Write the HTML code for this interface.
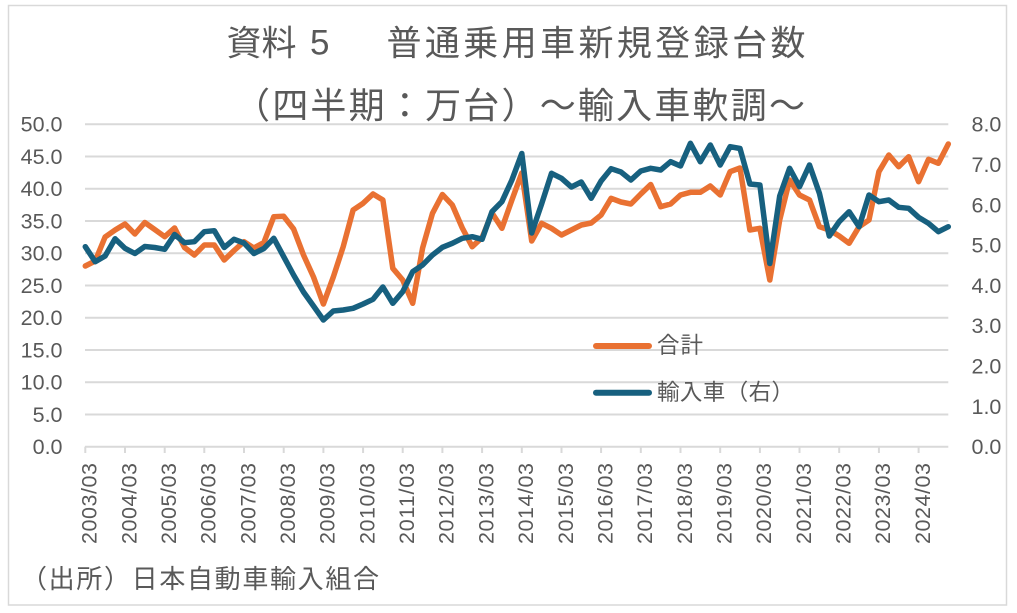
<!DOCTYPE html>
<html>
<head>
<meta charset="utf-8">
<style>
html,body{margin:0;padding:0;background:#fff;}
svg{display:block;}
text{fill:#595959;}
.num{font-family:"Liberation Sans",Arial,sans-serif;font-size:21.5px;}
.jp{font-family:"Liberation Sans","Noto Sans CJK JP",sans-serif;}
</style>
</head>
<body>
<svg width="1017" height="613" viewBox="0 0 1017 613" xmlns="http://www.w3.org/2000/svg">
<rect x="0" y="0" width="1017" height="613" fill="#fff"/>
<rect x="8.5" y="5.5" width="998" height="599.5" fill="none" stroke="#d9d9d9" stroke-width="1.5"/>

<!-- Title -->
<text class="jp" x="226.5" y="55.5" font-size="35" textLength="70" lengthAdjust="spacing">資料</text>
<text x="310" y="54.5" font-family="Liberation Sans, sans-serif" font-size="35">5</text>
<text class="jp" x="386.5" y="55.5" font-size="35" textLength="419" lengthAdjust="spacing">普通乗用車新規登録台数</text>
<text class="jp" x="234" y="118" font-size="36" textLength="571" lengthAdjust="spacing">（四半期：万台）～輸入車軟調～</text>

<!-- Gridlines -->
<g stroke="#d9d9d9" stroke-width="2">
<line x1="85" y1="124.3" x2="948.3" y2="124.3"/>
<line x1="85" y1="156.5" x2="948.3" y2="156.5"/>
<line x1="85" y1="188.8" x2="948.3" y2="188.8"/>
<line x1="85" y1="221" x2="948.3" y2="221"/>
<line x1="85" y1="253.3" x2="948.3" y2="253.3"/>
<line x1="85" y1="285.5" x2="948.3" y2="285.5"/>
<line x1="85" y1="317.7" x2="948.3" y2="317.7"/>
<line x1="85" y1="350" x2="948.3" y2="350"/>
<line x1="85" y1="382.3" x2="948.3" y2="382.3"/>
<line x1="85" y1="414.5" x2="948.3" y2="414.5"/>
<line x1="85" y1="446.7" x2="948.3" y2="446.7"/>
</g>
<!-- Ticks -->
<g stroke="#d9d9d9" stroke-width="2">
<line x1="85.3" y1="446.7" x2="85.3" y2="453"/>
<line x1="125.0" y1="446.7" x2="125.0" y2="453"/>
<line x1="164.7" y1="446.7" x2="164.7" y2="453"/>
<line x1="204.3" y1="446.7" x2="204.3" y2="453"/>
<line x1="244.0" y1="446.7" x2="244.0" y2="453"/>
<line x1="283.7" y1="446.7" x2="283.7" y2="453"/>
<line x1="323.4" y1="446.7" x2="323.4" y2="453"/>
<line x1="363.1" y1="446.7" x2="363.1" y2="453"/>
<line x1="402.7" y1="446.7" x2="402.7" y2="453"/>
<line x1="442.4" y1="446.7" x2="442.4" y2="453"/>
<line x1="482.1" y1="446.7" x2="482.1" y2="453"/>
<line x1="521.8" y1="446.7" x2="521.8" y2="453"/>
<line x1="561.5" y1="446.7" x2="561.5" y2="453"/>
<line x1="601.1" y1="446.7" x2="601.1" y2="453"/>
<line x1="640.8" y1="446.7" x2="640.8" y2="453"/>
<line x1="680.5" y1="446.7" x2="680.5" y2="453"/>
<line x1="720.2" y1="446.7" x2="720.2" y2="453"/>
<line x1="759.9" y1="446.7" x2="759.9" y2="453"/>
<line x1="799.5" y1="446.7" x2="799.5" y2="453"/>
<line x1="839.2" y1="446.7" x2="839.2" y2="453"/>
<line x1="878.9" y1="446.7" x2="878.9" y2="453"/>
<line x1="918.6" y1="446.7" x2="918.6" y2="453"/>
</g>

<!-- Left axis labels -->
<g class="num" text-anchor="end">
<text x="62.5" y="131.7">50.0</text>
<text x="62.5" y="163.9">45.0</text>
<text x="62.5" y="196.2">40.0</text>
<text x="62.5" y="228.4">35.0</text>
<text x="62.5" y="260.7">30.0</text>
<text x="62.5" y="292.9">25.0</text>
<text x="62.5" y="325.1">20.0</text>
<text x="62.5" y="357.4">15.0</text>
<text x="62.5" y="389.7">10.0</text>
<text x="62.5" y="421.9">5.0</text>
<text x="62.5" y="454.1">0.0</text>
</g>
<!-- Right axis labels -->
<g class="num" text-anchor="start">
<text x="971.5" y="131.7">8.0</text>
<text x="971.5" y="172.0">7.0</text>
<text x="971.5" y="212.3">6.0</text>
<text x="971.5" y="252.6">5.0</text>
<text x="971.5" y="292.9">4.0</text>
<text x="971.5" y="333.2">3.0</text>
<text x="971.5" y="373.5">2.0</text>
<text x="971.5" y="413.8">1.0</text>
<text x="971.5" y="454.1">0.0</text>
</g>

<!-- X axis labels -->
<g class="num" text-anchor="end">
<text transform="translate(96.6,463) rotate(-90)" textLength="81" lengthAdjust="spacing">2003/03</text>
<text transform="translate(136.3,463) rotate(-90)" textLength="81" lengthAdjust="spacing">2004/03</text>
<text transform="translate(176.0,463) rotate(-90)" textLength="81" lengthAdjust="spacing">2005/03</text>
<text transform="translate(215.6,463) rotate(-90)" textLength="81" lengthAdjust="spacing">2006/03</text>
<text transform="translate(255.3,463) rotate(-90)" textLength="81" lengthAdjust="spacing">2007/03</text>
<text transform="translate(295.0,463) rotate(-90)" textLength="81" lengthAdjust="spacing">2008/03</text>
<text transform="translate(334.7,463) rotate(-90)" textLength="81" lengthAdjust="spacing">2009/03</text>
<text transform="translate(374.4,463) rotate(-90)" textLength="81" lengthAdjust="spacing">2010/03</text>
<text transform="translate(414.0,463) rotate(-90)" textLength="81" lengthAdjust="spacing">2011/03</text>
<text transform="translate(453.7,463) rotate(-90)" textLength="81" lengthAdjust="spacing">2012/03</text>
<text transform="translate(493.4,463) rotate(-90)" textLength="81" lengthAdjust="spacing">2013/03</text>
<text transform="translate(533.1,463) rotate(-90)" textLength="81" lengthAdjust="spacing">2014/03</text>
<text transform="translate(572.8,463) rotate(-90)" textLength="81" lengthAdjust="spacing">2015/03</text>
<text transform="translate(612.4,463) rotate(-90)" textLength="81" lengthAdjust="spacing">2016/03</text>
<text transform="translate(652.1,463) rotate(-90)" textLength="81" lengthAdjust="spacing">2017/03</text>
<text transform="translate(691.8,463) rotate(-90)" textLength="81" lengthAdjust="spacing">2018/03</text>
<text transform="translate(731.5,463) rotate(-90)" textLength="81" lengthAdjust="spacing">2019/03</text>
<text transform="translate(771.2,463) rotate(-90)" textLength="81" lengthAdjust="spacing">2020/03</text>
<text transform="translate(810.8,463) rotate(-90)" textLength="81" lengthAdjust="spacing">2021/03</text>
<text transform="translate(850.5,463) rotate(-90)" textLength="81" lengthAdjust="spacing">2022/03</text>
<text transform="translate(890.2,463) rotate(-90)" textLength="81" lengthAdjust="spacing">2023/03</text>
<text transform="translate(929.9,463) rotate(-90)" textLength="81" lengthAdjust="spacing">2024/03</text>
</g>

<!-- Series: 合計 (orange) -->
<polyline fill="none" stroke="#E97132" stroke-width="5.5" stroke-linejoin="round" stroke-linecap="round"
points="85.3,266 95.2,261 105.1,237 115.1,230 125.0,224 134.9,234 144.8,222.5 154.7,229.5 164.7,236.7 174.6,228 184.5,247.5 194.4,255 204.3,245 214.3,245 224.2,260 234.1,250.5 244.0,241.7 253.9,248 263.9,242.5 273.8,216.7 283.7,216.3 293.6,229 303.5,255 313.5,277 323.4,304 333.3,277 343.2,246.7 353.1,210 363.1,203.3 373.0,194 382.9,200 392.8,268.3 402.7,280 412.7,303.3 422.6,248 432.5,213.3 442.4,194.5 452.3,205 462.3,228 472.2,246.7 482.1,237.5 492.0,213 501.9,228.3 511.9,200 521.8,173 531.7,241 541.6,223.3 551.5,228.3 561.5,235 571.4,230 581.3,225 591.2,223 601.1,215 611.1,198.3 621.0,202 630.9,204 640.8,194 650.7,184.5 660.7,206.7 670.6,204 680.5,195 690.4,192.3 700.3,192.3 710.3,186 720.2,195 730.1,171.7 740.0,168 749.9,230 759.9,228.3 769.8,280 779.7,220 789.6,180 799.5,195 809.5,200 819.4,226.7 829.3,230 839.2,236 849.1,243.3 859.1,226.7 869.0,220 878.9,171.7 888.8,155 898.7,166.7 908.7,156.7 918.6,181.7 928.5,159.3 938.4,163.3 948.3,144"/>

<!-- Series: 輸入車 (blue, right axis) -->
<polyline fill="none" stroke="#17607F" stroke-width="5.5" stroke-linejoin="round" stroke-linecap="round"
points="85.3,246.7 95.2,261.7 105.1,256 115.1,238.8 125.0,248.3 134.9,253.5 144.8,246.5 154.7,247.5 164.7,249.3 174.6,234.5 184.5,242.7 194.4,241.7 204.3,231.7 214.3,230.7 224.2,247.5 234.1,239.3 244.0,243 253.9,253.5 263.9,248.5 273.8,238.3 283.7,256.7 293.6,275 303.5,292 313.5,306 323.4,320 333.3,311 343.2,310 353.1,308.3 363.1,304 373.0,299.3 382.9,287 392.8,303.3 402.7,291.7 412.7,271.7 422.6,265 432.5,255 442.4,247.3 452.3,243.3 462.3,238.3 472.2,236.7 482.1,239.3 492.0,211.7 501.9,201.7 511.9,180 521.8,153.5 531.7,233 541.6,204 551.5,173.3 561.5,178.3 571.4,187 581.3,182 591.2,198.3 601.1,181 611.1,168.7 621.0,172 630.9,180 640.8,171 650.7,168.3 660.7,170 670.6,161.7 680.5,166 690.4,143.3 700.3,161.7 710.3,145 720.2,165 730.1,146.7 740.0,148.5 749.9,184 759.9,185 769.8,263.5 779.7,196 789.6,168.3 799.5,186.7 809.5,165 819.4,193.3 829.3,236 839.2,221.7 849.1,211.7 859.1,226.7 869.0,195 878.9,201.7 888.8,200 898.7,207.3 908.7,208.3 918.6,217.3 928.5,223.3 938.4,231.7 948.3,226.7"/>

<!-- Legend -->
<line x1="596" y1="346" x2="649" y2="346" stroke="#E97132" stroke-width="6" stroke-linecap="round"/>
<line x1="596" y1="392.7" x2="649" y2="392.7" stroke="#17607F" stroke-width="6" stroke-linecap="round"/>
<text class="jp" x="657" y="353" font-size="22.5" textLength="46" lengthAdjust="spacing">合計</text>
<text class="jp" x="657" y="400" font-size="22.5" textLength="137" lengthAdjust="spacing">輸入車（右）</text>

<!-- Footer -->
<text class="jp" x="21" y="588" font-size="26" textLength="358" lengthAdjust="spacing">（出所）日本自動車輸入組合</text>
</svg>
</body>
</html>
